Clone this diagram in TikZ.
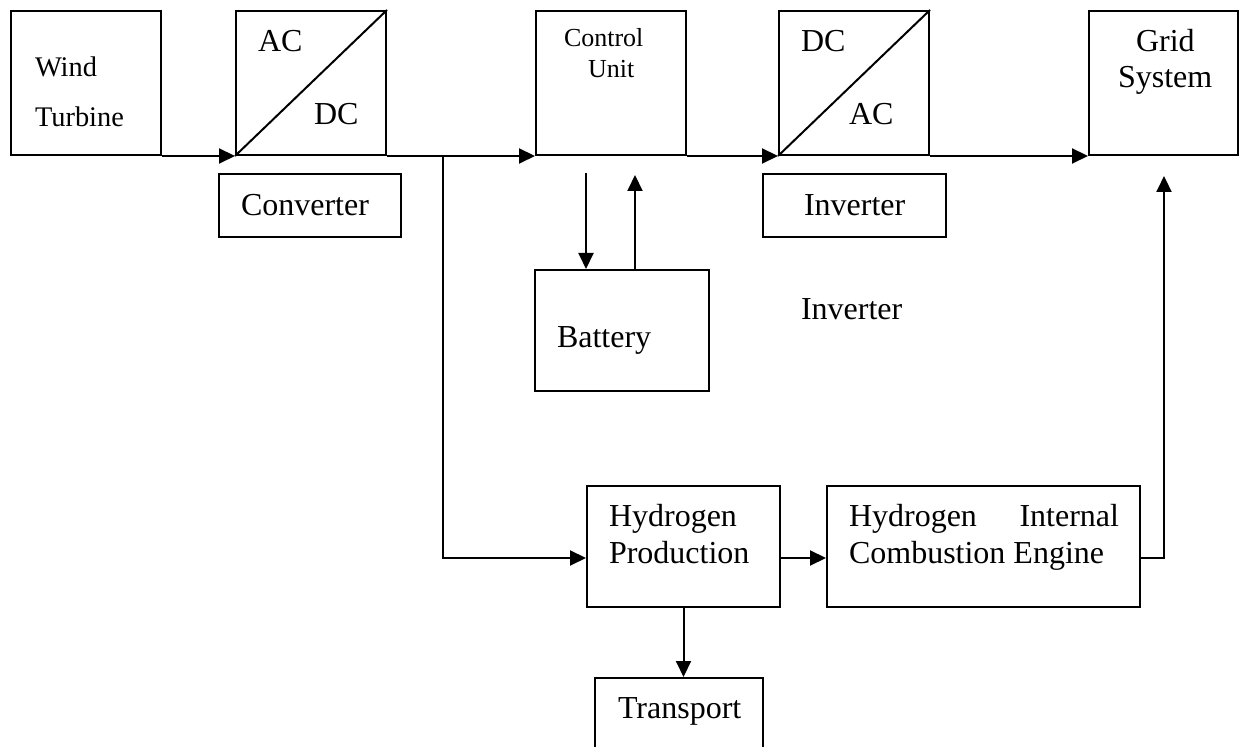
\documentclass[tikz,border=0pt]{standalone}
\usepackage{fontspec}
\setmainfont{Liberation Serif}
\usetikzlibrary{arrows.meta}

\begin{document}
\begin{tikzpicture}[
    x=0.5pt, y=-0.5pt,
    >={Triangle[length=8pt,width=7.5pt]},
    line width=1pt,
    blk/.style={draw, inner sep=0pt, minimum width=75pt, minimum height=72pt},
    tag/.style={draw, inner sep=0pt, minimum width=91pt, minimum height=31.5pt},
    big/.style={draw, inner sep=0pt, minimum height=60.5pt},
    lbl/.style={anchor=base west, inner sep=0pt, font=\fontsize{16}{19}\selectfont},
    lblmid/.style={lbl, font=\fontsize{14.2}{17}\selectfont},
    lblsmall/.style={lbl, font=\fontsize{13}{15}\selectfont}
]
\useasboundingbox (0,0) rectangle (1241,747);

% top row
\node[blk] (wind) at (86,83) {};
\node[blk] (acdc) at (311,83) {};
\node[blk] (ctrl) at (611,83) {};
\node[blk] (dcac) at (854,83) {};
\node[blk, minimum width=74.5pt] (grid) at (1163.5,83) {};
\draw (acdc.south west) -- (acdc.north east);
\draw (dcac.south west) -- (dcac.north east);

\node[lblmid] (windtxt) at (34,77) {Wind};
\node[lblmid] (turbtxt) at (34,127) {Turbine};
\node[lbl] (actxt) at (257,52) {AC};
\node[lbl] (dctxt) at (313,125) {DC};
\node[lblsmall] (ctrltxt) at (563,47) {Control};
\node[lblsmall] (unittxt) at (587,78) {Unit};
\node[lbl] (dctxtb) at (800,52) {DC};
\node[lbl] (actxtb) at (848,125) {AC};
\node[lbl] (gridtxt) at (1135,52) {Grid};
\node[lbl] (systxt) at (1117,88) {System};

% converter / inverter tags
\node[tag] (conv) at (310,205.5) {};
\node[tag, minimum width=91.5pt] (inv) at (854.5,205.5) {};
\node[lbl] (convtxt) at (240,216) {Converter};
\node[lbl] (invtxt) at (803,216) {Inverter};

\draw[->] (wind.south east) -- (acdc.south west);
\draw[->] (acdc.south east) -- (ctrl.south west);
\draw[->] (ctrl.south east) -- (dcac.south west);
\draw[->] (dcac.south east) -- (grid.south west);

% battery
\node[draw, inner sep=0pt, minimum width=87pt, minimum height=60.5pt] (batt) at (622,330.5) {};
\node[lbl] (batttxt) at (556,348) {Battery};
\node[lbl] (invfree) at (800,320) {Inverter};
\coordinate (tobatt) at (586,173);
\coordinate (toctrl) at (635,175);
\draw[->] (tobatt) -- (tobatt |- batt.north);
\draw[->] (toctrl |- batt.north) -- (toctrl);

% hydrogen branch
\node[big, minimum width=96.5pt] (hp) at (683.5,546.5) {};
\node[big, minimum width=156.5pt] (ice) at (983.5,546.5) {};
\node[draw, inner sep=0pt, minimum width=84pt, minimum height=51pt] (trans) at (679,729) {};
\node[lbl] (hptxta) at (608,527) {Hydrogen};
\node[lbl] (hptxtb) at (608,564) {Production};
\node[lbl] (icetxta) at (848,527) {\makebox[135pt][s]{Hydrogen Internal}};
\node[lbl] (icetxtb) at (848,564) {Combustion Engine};
\node[lbl] (transtxt) at (617,718) {Transport};

\coordinate (branch) at (443,155);
\coordinate (hline) at (0,558);
\coordinate (riser) at (1164,558);
\coordinate (togrid) at (1164,176);
\draw[->] (branch) |- (hp.west |- hline);
\draw[->] (hp.east |- hline) -- (ice.west |- hline);
\draw[->] (ice.east |- hline) -- (riser) -- (togrid);
\draw[->] (hp.south) -- (hp.south |- trans.north);
\end{tikzpicture}
\end{document}
